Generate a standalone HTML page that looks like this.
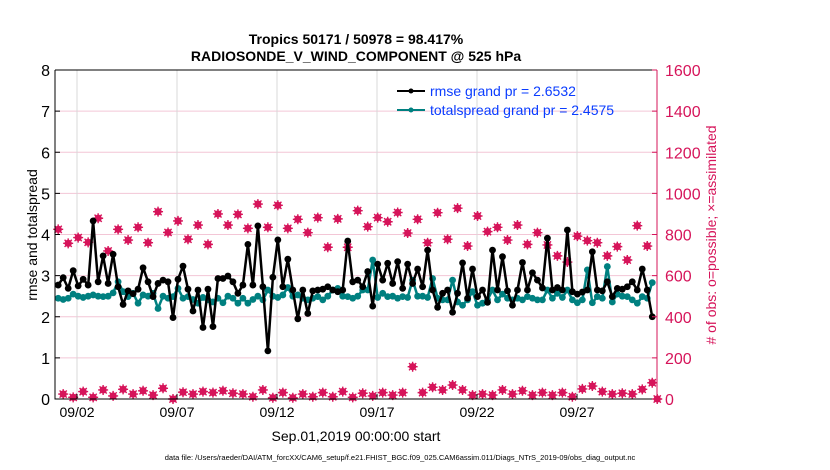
<!DOCTYPE html>
<html><head><meta charset="utf-8"><style>
body{margin:0;background:#fff;}
svg{display:block;font-family:"Liberation Sans",Arial,sans-serif;}
</style></head><body>
<svg id="chart" width="830" height="470" viewBox="0 0 830 470">
<rect width="830" height="470" fill="#fff"/>
<g id="grid"></g><g id="obs"></g><g id="series"></g><g id="axes"></g>
<text x="356" y="44" text-anchor="middle" font-size="14" font-weight="bold">Tropics 50171 / 50978 = 98.417%</text>
<text x="356" y="61" text-anchor="middle" font-size="14" font-weight="bold">RADIOSONDE_V_WIND_COMPONENT @ 525 hPa</text>
<text transform="translate(37,235) rotate(-90)" text-anchor="middle" font-size="14">rmse and totalspread</text>
<text transform="translate(716,235) rotate(-90)" text-anchor="middle" font-size="14" fill="#d6145a"># of obs: o=possible; ×=assimilated</text>
<text x="356" y="441" text-anchor="middle" font-size="14">Sep.01,2019 00:00:00 start</text>
<text x="400" y="460" text-anchor="middle" font-size="7.5">data file: /Users/raeder/DAI/ATM_forcXX/CAM6_setup/f.e21.FHIST_BGC.f09_025.CAM6assim.011/Diags_NTrS_2019-09/obs_diag_output.nc</text>
<g>
<line x1="397" y1="91" x2="425" y2="91" stroke="#000" stroke-width="2"/><circle cx="411" cy="91" r="2.5" fill="#000"/>
<text x="430" y="96" font-size="14" fill="#0a3cff">rmse grand pr = 2.6532</text>
<line x1="397" y1="110" x2="425" y2="110" stroke="#008080" stroke-width="2"/><circle cx="411" cy="110" r="2.5" fill="#008080"/>
<text x="430" y="115" font-size="14" fill="#0a3cff">totalspread grand pr = 2.4575</text>
</g>
</svg>
<script>
const rmse=[2.77,2.95,2.69,3.12,2.75,2.91,2.77,4.33,2.85,3.48,2.81,3.52,2.73,2.30,2.63,2.56,2.67,3.19,2.85,2.49,2.81,2.89,2.85,1.98,2.91,3.23,2.67,2.14,2.65,1.74,2.67,1.76,2.93,2.93,2.99,2.85,2.57,2.77,3.76,
2.77,4.21,2.73,1.17,2.96,3.87,2.73,3.40,2.65,1.95,2.65,2.08,2.63,2.65,2.67,2.73,2.65,2.61,2.65,3.84,2.85,2.89,2.73,3.10,2.26,3.28,2.89,3.30,2.81,3.34,2.69,3.28,2.81,3.16,2.73,3.62,2.65,2.23,2.57,2.65,2.11,
2.57,3.31,2.45,3.16,2.49,2.65,2.35,3.62,2.65,3.46,2.63,2.28,2.65,3.32,2.65,3.07,2.89,2.70,3.91,2.65,2.71,2.65,4.11,2.61,2.55,2.60,2.65,3.58,2.65,2.63,2.85,2.49,2.69,2.67,2.73,2.85,2.65,3.16,2.65,2.00];
const spread=[2.45,2.42,2.45,2.55,2.50,2.47,2.50,2.53,2.50,2.49,2.50,2.58,2.85,2.61,2.49,2.57,2.33,2.53,2.50,2.57,2.20,2.50,2.45,2.49,2.69,2.45,2.49,2.42,2.33,2.47,2.41,2.36,2.45,2.34,2.50,2.45,2.33,2.45,2.33,
2.42,2.50,2.41,2.65,2.50,2.47,2.53,2.71,2.50,2.53,2.45,2.41,2.45,2.49,2.41,2.50,2.65,2.69,2.50,2.49,2.45,2.50,2.65,2.65,3.38,2.47,2.57,2.49,2.50,2.45,2.49,2.47,2.89,2.50,2.50,2.47,2.93,2.45,2.41,2.41,2.89,
2.36,2.28,2.41,2.61,2.28,2.33,2.41,2.65,2.41,2.55,2.45,2.41,2.45,2.41,2.49,2.45,2.41,2.41,2.65,2.45,2.57,2.47,2.65,2.41,2.34,2.41,3.14,2.34,2.49,2.45,3.22,2.36,2.55,2.50,2.49,2.41,2.33,2.49,2.45,2.83];
const nobs=[825,24,757,8,785,36,762,8,879,44,720,15,825,47,773,24,835,40,760,19,911,52,810,0,866,33,777,24,846,36,752,31,900,40,846,28,898,24,830,11,948,
44,835,6,942,31,830,6,874,24,809,11,882,31,738,11,876,36,738,8,916,28,838,15,882,31,862,19,907,31,807,157,874,31,760,57,906,44,777,68,928,
44,744,19,890,24,814,19,835,44,773,24,846,40,752,19,809,31,749,19,696,31,666,11,792,49,770,63,760,36,696,24,741,28,676,24,843,47,744,79,0];
const dateTicks=[1,6,11,16,21,26];
const dateLabels=["09/02","09/07","09/12","09/17","09/22","09/27"];
const leftTicks=[0,1,2,3,4,5,6,7,8];
const rightTicks=[0,200,400,600,800,1000,1200,1400,1600];

const X0=55,X1=657,Y0=399,Y1=70,DAY0=57,PXDAY=20;
const xDay=d=>DAY0+d*PXDAY;
const xIdx=i=>xDay(0.06+i*0.2496);
const yL=v=>Y0-(v/8)*(Y0-Y1);
const yR=v=>Y0-(v/1600)*(Y0-Y1);
const NS="http://www.w3.org/2000/svg";
function mk(tag,at,parent){const e=document.createElementNS(NS,tag);for(const k in at)e.setAttribute(k,at[k]);parent.appendChild(e);return e;}
const grid=document.getElementById('grid'),axes=document.getElementById('axes'),obs=document.getElementById('obs'),ser=document.getElementById('series');

rightTicks.forEach(t=>{const l=mk('line',{x1:X0,x2:X1,y1:yR(t),y2:yR(t),stroke:'#f3c6d6','stroke-width':1},grid);

});
dateTicks.forEach((d,i)=>{const l=mk('line',{x1:xDay(d),x2:xDay(d),y1:Y1,y2:Y0,stroke:'#d8d8d8','stroke-width':1},grid);


const tk=mk('line',{x1:xDay(d),x2:xDay(d),y1:Y0,y2:Y0-5,stroke:'#000'},axes);


const t=mk('text',{x:xDay(d),y:Y0+18,'text-anchor':'middle','font-size':14},axes);t.textContent=dateLabels[i];

});

nobs.forEach((n,i)=>{const g=mk('g',{},obs);


const x=xIdx(i),y=yR(n);
mk('circle',{cx:x,cy:y,r:3.6,fill:'#d6145a'},g);
mk('path',{d:`M${x-5} ${y}H${x+5}M${x} ${y-5}V${y+5}M${x-3.6} ${y-3.6}L${x+3.6} ${y+3.6}M${x-3.6} ${y+3.6}L${x+3.6} ${y-3.6}`,stroke:'#d6145a','stroke-width':1.4},g);});

function series(arr,color,name){
 const pts=arr.map((v,i)=>xIdx(i).toFixed(1)+','+yL(v).toFixed(1)).join(' ');
 const pl=mk('polyline',{points:pts,fill:'none',stroke:color,'stroke-width':2.5,'stroke-linejoin':'round'},ser);
 
 
 arr.forEach((v,i)=>{const c=mk('circle',{cx:xIdx(i),cy:yL(v),r:3.4,fill:color},ser);
 
 });
}
series(spread,'#008080','totalspread');
series(rmse,'#000','rmse');

mk('path',{d:`M${X0} ${Y1}H${X1}M${X0} ${Y1}V${Y0}H${X1}`,stroke:'#000',fill:'none','stroke-width':1},axes);
mk('line',{x1:X1,x2:X1,y1:Y1,y2:Y0,stroke:'#d6145a','stroke-width':1},axes);
leftTicks.forEach(t=>{const tk=mk('line',{x1:X0,x2:X0+5,y1:yL(t),y2:yL(t),stroke:'#000'},axes);


const tx=mk('text',{x:X0-5,y:yL(t)+6,'text-anchor':'end','font-size':16},axes);tx.textContent=t;

});
rightTicks.forEach(t=>{const tk=mk('line',{x1:X1-5,x2:X1,y1:yR(t),y2:yR(t),stroke:'#d6145a'},axes);


const tx=mk('text',{x:X1+8,y:yR(t)+6,'font-size':16,fill:'#d6145a'},axes);tx.textContent=t;

});
</script>
</body></html>
